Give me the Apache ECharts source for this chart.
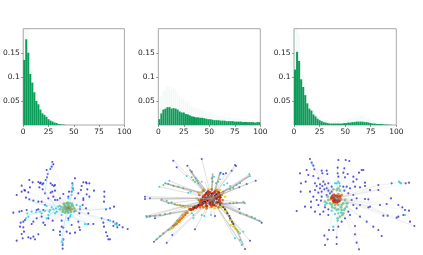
<!DOCTYPE html>
<html><head><meta charset="utf-8">
<style>html,body{margin:0;background:#fff}#c{width:423px;height:255px;filter:blur(.3px)}</style>
<script src="https://cdn.jsdelivr.net/npm/echarts@6/dist/echarts.min.js"></script>
</head><body><div id="c"></div>
<script>
const binCentres=[1,3,5,7,9,11,13,15,17,19,21,23,25,27,29,31,33,35,37,39,41,43,45,47,49,51,53,55,57,59,61,63,65,67,69,71,73,75,77,79,81,83,85,87,89,91,93,95,97,99];
const xTicks=[0,25,50,75,100];
const yTicks=[0.05,0.1,0.15];
const histA=[.135,.178,.15,.106,.088,.068,.05,.043,.032,.024,.021,.017,.012,.009,.007,.005,.004,.002,.0015,.001,.0005,0,0,0,0,0,0,0,0,0,0,0,0,0,0,0,0,0,0,0,0,0,0,0,0,0,0,0,0,0];
const topA=[.2,.2,.2,.15,.12,.09,.07,.06,.05,.038,.032,.027,.02,.016,.012,.009,.007,.005,.004,.003,.002,0,0,0,0,0,0,0,0,0,0,0,0,0,0,0,0,0,0,0,0,0,0,0,0,0,0,0,0,0];
const histB=[.012,.024,.032,.034,.037,.037,.034,.035,.034,.032,.028,.026,.026,.023,.022,.02,.018,.017,.016,.016,.015,.015,.014,.013,.012,.012,.011,.01,.01,.01,.009,.009,.009,.008,.008,.008,.008,.007,.007,.007,.007,.006,.006,.006,.006,.006,.006,.005,.006,.006];
const topB=[.035,.06,.07,.075,.082,.08,.075,.078,.075,.07,.06,.055,.055,.05,.048,.045,.04,.038,.036,.034,.032,.03,.029,.027,.025,.024,.023,.021,.02,.02,.018,.018,.018,.016,.016,.016,.015,.014,.014,.014,.013,.012,.012,.012,.011,.011,.011,.01,.01,.01];
const histC=[.115,.152,.133,.095,.079,.062,.045,.034,.03,.022,.018,.013,.01,.008,.006,.005,.004,.003,.003,.003,.003,.003,.003,.003,.004,.004,.005,.005,.006,.006,.007,.007,.007,.007,.006,.006,.005,.004,.003,.003,.002,.002,.002,.0015,.001,.001,.0005,.0005,0,0];
const topC=[.2,.2,.19,.13,.105,.085,.062,.05,.042,.032,.026,.02,.016,.013,.011,.01,.009,.008,.008,.008,.008,.009,.009,.01,.011,.012,.013,.014,.015,.016,.018,.019,.02,.019,.018,.016,.014,.012,.01,.009,.007,.006,.006,.005,.004,.003,.002,.002,0,0];

const hubA=[205,175];
const blueA=[[157,36],[160,43],[155,50],[140,60],[151,57],[143,72],[141,82],[137,90],[88,90],[98,97],[115,96],[120,100],[127,103],[130,100],[118,112],[165,105],[157,105],[152,100],[65,107],[73,120],[90,112],[85,127],[65,125],[50,135],[78,143],[88,148],[100,152],[115,155],[128,118],[135,130],[157,125],[165,122],[160,140],[145,145],[225,85],[217,100],[218,115],[215,125],[207,125],[205,140],[190,132],[180,145],[165,150],[250,97],[258,97],[268,100],[245,108],[243,120],[235,130],[260,133],[262,118],[282,122],[268,140],[250,145],[248,165],[258,175],[265,190],[238,190],[240,178],[250,150],[313,125],[313,140],[312,155],[342,170],[330,175],[318,178],[305,205],[310,218],[325,210],[340,215],[350,220],[358,225],[368,232],[383,237],[352,232],[340,228],[312,230],[318,247],[322,258],[330,268],[325,268],[40,188],[58,185],[65,183],[80,180],[75,210],[70,215],[62,218],[60,230],[70,232],[72,245],[65,252],[50,272],[68,265],[85,262],[92,265],[100,260],[105,268],[115,253],[130,218],[100,215],[95,222],[110,205],[125,200],[145,205],[135,225],[160,240],[158,212],[185,230],[190,233],[180,245],[200,245],[210,250],[225,248],[240,240],[238,232],[265,222],[280,222],[215,225],[235,215],[185,212],[205,205],[190,268],[188,285],[188,296],[180,255],[110,180],[115,178],[130,180],[135,165],[125,155],[122,98],[162,108],[260,100],[75,122],[152,128],[172,150],[225,145]];
const cyanA=[[82,190],[85,200],[78,205],[120,185],[150,180],[145,195],[140,205],[175,170],[160,178],[185,195],[205,210],[218,105],[220,120],[185,275],[190,270],[262,223],[350,225],[330,212],[205,145],[230,165],[140,168],[95,185],[125,190],[135,183],[170,185],[212,195],[222,185],[240,170],[155,172],[168,175],[180,168],[148,185],[108,187],[217,112],[215,135],[210,200],[188,280],[345,222],[255,222],[165,190]];
const greenA=[[195,168],[200,172],[205,165],[212,170],[190,178],[198,182],[208,180],[215,178],[205,188],[195,188],[185,172],[218,168],[210,160],[200,160],[222,175],[180,178],[192,162],[213,186],[203,176],[197,175],[188,185],[216,162],[226,182],[203,158],[210,174],[193,172],[201,184],[206,170]];
const orangeA=[[204,172],[209,176],[199,178],[207,168],[211,182]];
const routesA=[[[82,195],[120,185],[190,175]],[[140,205],[165,180]],[[218,100],[210,170]],[[185,275],[190,235],[200,190]],[[265,222],[215,200]],[[358,225],[325,210],[305,205]],[[330,175],[280,180],[225,178]],[[85,150],[130,165],[190,172]],[[157,36],[143,72],[135,130],[165,165]]];

const hubB=[215,145];
const spokesB=[[185,27],[100,32],[110,52],[142,47],[150,60],[170,85],[195,95],[218,70],[240,68],[258,70],[285,45],[288,48],[330,72],[328,78],[347,92],[320,102],[298,112],[290,105],[58,110],[75,100],[88,92],[15,140],[15,147],[30,145],[65,148],[85,160],[315,160],[270,160],[298,177],[365,218],[345,205],[18,198],[20,202],[45,205],[42,275],[80,278],[97,255],[165,238],[193,198],[213,195],[225,198],[160,205],[330,272],[315,297],[305,285],[285,265],[310,245]];
const bandsB=[[[190,155],[130,190],[100,225],[45,272]],[[150,180],[70,195],[18,200]],[[215,150],[255,175],[290,240],[310,285]],[[245,165],[300,190],[365,215]],[[60,150],[110,165],[170,170]],[[245,162],[315,158]],[[75,100],[130,115],[190,130]],[[150,60],[175,100],[195,125]],[[218,70],[215,125]],[[240,68],[225,125]],[[328,78],[280,110],[240,130]]];
const blueB=[[185,27],[100,32],[110,52],[142,47],[285,45],[288,48],[258,70],[250,72],[275,62],[347,92],[320,102],[298,112],[365,218],[330,272],[315,297],[80,278],[97,255],[42,275],[165,238],[15,140],[15,147],[30,145],[225,198],[298,177],[45,205],[242,68],[155,65]];
const cyanB=[[150,60],[168,85],[185,95],[240,72],[328,72],[330,78],[290,105],[58,110],[75,100],[88,92],[65,148],[85,160],[315,160],[345,205],[18,198],[20,202],[160,205],[193,198],[213,195],[305,285],[285,265],[310,245],[145,128],[140,78],[262,100],[155,190],[240,88],[270,108],[50,268],[60,258],[300,270],[30,200],[172,92],[222,80],[252,105],[358,212],[310,155],[160,195]];
const greenB=[[70,105],[100,108],[130,115],[160,90],[175,100],[215,85],[235,95],[280,115],[250,125],[80,152],[105,163],[130,168],[30,198],[60,195],[90,190],[290,158],[270,160],[335,200],[300,190],[110,220],[95,235],[70,250],[300,250],[185,195],[160,180],[85,102],[115,110],[155,82],[165,95],[218,95],[228,100],[270,118],[300,100],[95,157],[120,166],[45,198],[75,192],[280,160],[320,195],[85,240],[295,245],[152,125]];
const yellowB=[[112,165],[125,170],[145,172],[120,208],[108,220],[128,195],[100,232],[270,210],[280,230],[292,240],[260,185],[245,170],[195,170],[225,175],[240,155],[180,150],[185,125],[240,120],[205,118],[150,175],[118,215],[112,212],[278,218],[286,236],[272,225],[90,238],[135,172],[255,180],[210,172],[240,172],[170,145],[255,140],[192,118],[228,118],[250,130],[175,128]];
const orangeB=[[170,170],[155,180],[142,188],[135,195],[125,205],[115,215],[105,225],[180,160],[190,172],[235,172],[200,175],[245,135],[178,135],[215,118],[148,178],[138,190],[130,200],[120,210],[110,222],[165,168],[160,172],[180,172],[215,170],[228,168],[248,150],[190,122],[232,122],[176,150],[245,160],[100,228]];
const redB=[[200,130],[210,128],[220,130],[232,135],[195,142],[205,140],[215,138],[228,145],[238,150],[192,152],[205,150],[218,152],[230,158],[198,160],[210,162],[222,165],[188,160],[178,165],[168,172],[160,175],[185,148],[240,142],[200,150],[225,140],[212,155],[195,135],[205,125],[225,125],[236,128],[190,140],[210,145],[220,145],[235,140],[185,165],[172,168],[152,178],[200,168],[215,165],[240,158],[182,155],[196,150],[206,132]];
const blackB=[[205,135],[215,132],[225,138],[200,145],[212,147],[222,150],[235,155],[208,158],[218,160],[195,155],[230,148],[250,172],[262,190],[270,205],[280,222],[188,155],[240,165],[200,128],[228,132],[212,140],[220,155],[203,153],[240,135],[255,178],[268,198],[276,215],[175,165],[163,172]];

const hubC=[153,145];
const blueC=[[75,27],[80,38],[85,47],[88,58],[160,30],[182,30],[193,33],[178,55],[158,53],[125,62],[127,72],[110,62],[112,70],[65,60],[45,70],[70,75],[85,78],[100,85],[62,95],[48,100],[90,100],[105,103],[115,95],[120,103],[130,100],[47,125],[75,125],[90,120],[105,115],[125,115],[140,110],[160,80],[158,70],[175,68],[188,72],[180,82],[205,80],[222,68],[230,60],[235,60],[205,95],[215,88],[240,98],[240,108],[225,112],[210,110],[195,115],[255,120],[280,105],[280,120],[320,100],[372,98],[362,100],[318,145],[340,165],[352,172],[360,180],[372,182],[355,195],[340,200],[335,203],[308,197],[295,197],[255,170],[250,172],[285,165],[305,162],[388,228],[375,215],[280,240],[290,258],[265,230],[245,215],[225,200],[210,228],[210,253],[215,278],[222,298],[155,262],[155,282],[120,285],[118,257],[132,240],[128,268],[145,240],[160,230],[35,183],[60,170],[78,172],[90,185],[105,193],[78,155],[95,150],[110,140],[130,178],[120,172],[100,165],[135,130],[140,125],[175,110],[190,130],[205,135],[215,145],[240,147],[250,148],[225,165],[205,165],[190,185],[195,195],[180,205],[170,215],[112,108],[118,118],[100,128],[85,140],[108,152],[125,135],[130,122],[110,125],[95,108],[178,122],[185,110],[200,150],[215,175],[130,195],[115,185]];
const cyanC=[[342,95],[348,100],[345,98],[83,45],[160,95],[165,108],[155,180],[160,190],[120,165],[145,230],[180,175],[360,195],[188,160],[150,100],[155,100],[163,100],[150,192],[168,188],[158,212],[140,182]];
const greenC=[[140,165],[130,150],[120,155],[170,180],[175,190],[165,200],[185,170],[150,175],[160,165],[165,150],[145,118],[160,115],[135,160],[180,150],[168,172],[158,205],[175,160],[128,140],[142,172],[125,160],[178,180],[170,165],[155,120],[165,122],[150,165],[185,160],[172,195],[160,178]];
const redC=[[150,140],[155,145],[148,148],[158,150],[152,152],[160,142],[145,143],[155,138],[162,148],[150,155],[143,138],[165,140],[147,135],[157,155],[153,142],[162,153],[146,152],[140,143]];
const orangeC=[[138,148],[168,148],[155,160],[145,158],[160,133],[170,135]];
const blackC=[[153,147],[148,143],[158,143],[150,150],[156,153]];
const routesC=[[[153,145],[280,105],[345,98],[372,98]],[[153,145],[280,120],[340,165],[360,195]],[[153,145],[88,58],[75,27]],[[153,145],[210,228],[222,298]],[[153,145],[160,190],[155,262]],[[153,145],[255,170],[308,197],[388,228]]];

const NET_BLUE='#2525d0',NET_CYAN='#1fd0ea',NET_GREEN='#6cc488',NET_YELLOW='#e8d210',NET_ORANGE='#e8780f',NET_RED='#d02206',NET_BLACK='#1a1010';
const grids=[],xAxes=[],yAxes=[],series=[];
const frames=[[22,102.4],[158.3,102],[294,102.3]];
const hists=[[histA,topA],[histB,topB],[histC,topC]];
frames.forEach((f,i)=>{
  grids.push({left:f[0],top:28.7,width:f[1],height:96.3,show:true,borderColor:'#a8a8a8',borderWidth:1,backgroundColor:'#fff'});
  xAxes.push({type:'value',gridIndex:i,min:0,max:100,interval:25,splitLine:{show:false},
    axisLine:{show:false},axisTick:{show:true,length:2,lineStyle:{color:'#555',width:.6}},
    axisLabel:{fontSize:7.5,color:'#222',fontFamily:'DejaVu Sans',margin:3.5,customValues:xTicks,formatter:v=>String(v)}});
  yAxes.push({type:'value',gridIndex:i,min:0,max:.2,splitLine:{show:false},axisLine:{show:false},
    axisTick:{show:true,length:2,lineStyle:{color:'#555',width:.6},customValues:yTicks},
    axisLabel:{fontSize:7.5,color:'#222',fontFamily:'DejaVu Sans',margin:3.5,customValues:yTicks,formatter:v=>String(+v.toFixed(2))}});
  const pair=(a)=>a.map((v,k)=>[binCentres[k],v]);
  series.push({type:'bar',xAxisIndex:i,yAxisIndex:i,data:pair(hists[i][1]),barWidth:1.4,barGap:'-100%',silent:true,
    itemStyle:{color:'rgba(30,170,110,.07)'},animation:false});
  series.push({type:'bar',xAxisIndex:i,yAxisIndex:i,data:pair(hists[i][0]),barWidth:2,barGap:'-100%',silent:true,
    itemStyle:{color:'#0d9c58'},animation:false});
});
const nets=[[0,140],[140,140],[285,138]];
nets.forEach((n,k)=>{
  const i=k+3;
  grids.push({left:n[0],top:150,width:n[1],height:100,show:false});
  xAxes.push({type:'value',gridIndex:i,min:0,max:n[1]*3,show:false});
  yAxes.push({type:'value',gridIndex:i,min:0,max:300,inverse:true,show:false});
});
function edges(i,list,color,width,op){
  const d=[];list.forEach(p=>{p.forEach(q=>d.push(q));d.push([null,null]);});
  series.push({type:'line',xAxisIndex:i,yAxisIndex:i,data:d,showSymbol:false,symbol:'none',connectNulls:false,silent:true,animation:false,
    lineStyle:{color,width,opacity:op}});
}
function nodes(i,list,color,size,op){
  series.push({type:'scatter',xAxisIndex:i,yAxisIndex:i,data:list,symbolSize:size,silent:true,animation:false,itemStyle:{color,opacity:op}});
}
const spokes=(h,l)=>l.map(p=>[h,p]);
edges(3,spokes(hubA,blueA),'#aaa',.5,.09);
edges(3,routesA,'#7fe0f0',.9,.5);
nodes(3,blueA,NET_BLUE,2.1,.8);nodes(3,cyanA,NET_CYAN,2.2,.9);nodes(3,greenA,NET_GREEN,2.8,.9);nodes(3,orangeA,NET_ORANGE,1.6,.6);
edges(4,spokes(hubB,spokesB),'#999',1,.3);
edges(4,bandsB,'#777',1.6,.45);
nodes(4,blueB,NET_BLUE,2,.8);nodes(4,cyanB,NET_CYAN,2,.85);nodes(4,greenB,'#5fbf6a',2,.9);nodes(4,yellowB,NET_YELLOW,2.4,.95);
nodes(4,orangeB,NET_ORANGE,2.6,1);nodes(4,redB,NET_RED,3.2,1);nodes(4,blackB,NET_BLACK,2,.9);
edges(5,spokes(hubC,blueC),'#aaa',.5,.13);
edges(5,routesC,'#bbb',.7,.3);
nodes(5,blueC,NET_BLUE,2.1,.8);nodes(5,cyanC,NET_CYAN,2.2,.9);nodes(5,greenC,NET_GREEN,2.8,.85);nodes(5,orangeC,NET_ORANGE,2.6,.9);nodes(5,redC,NET_RED,3.2,1);nodes(5,blackC,NET_BLACK,1.6,.8);
const chart=echarts.init(document.getElementById('c'),null,{renderer:'canvas'});
chart.setOption({animation:false,backgroundColor:'#fff',grid:grids,xAxis:xAxes,yAxis:yAxes,series});
</script></body></html>
